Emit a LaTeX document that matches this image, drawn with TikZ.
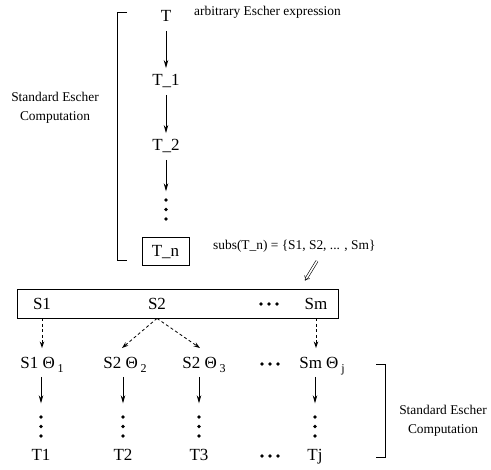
\documentclass[tikz,border=0pt]{standalone}
\usepackage{fontspec}
\setmainfont{Liberation Serif}
\usetikzlibrary{arrows.meta}
\newcommand{\subsc}[1]{\,\raisebox{-4pt}{\fontsize{12}{12}\selectfont #1}}
\begin{document}
\begin{tikzpicture}[x=1pt,y=-1pt,
  lbl/.style={font=\fontsize{17}{17}\selectfont, inner sep=0pt, text height=11.5pt, text depth=0pt},
  small/.style={font=\fontsize{13.4}{19}\selectfont, inner sep=0pt, align=center},
  arr/.style={line width=0.8pt, -{Stealth[length=8pt,width=4.5pt]}},
  darr/.style={line width=0.8pt, dash pattern=on 3pt off 2.5pt, -{Stealth[length=6.5pt,width=4.5pt,open]}},
  ln/.style={line width=0.8pt},
  vdts/.style={minimum width=5pt, minimum height=24pt, inner sep=0pt,
    path picture={\fill ([yshift=9.5pt]path picture bounding box.center) circle (1.9pt)
      (path picture bounding box.center) circle (1.9pt)
      ([yshift=-9.5pt]path picture bounding box.center) circle (1.9pt);}},
  hdts/.style={minimum width=22pt, minimum height=5pt, inner sep=0pt,
    path picture={\fill ([xshift=-8pt]path picture bounding box.center) circle (1.9pt)
      (path picture bounding box.center) circle (1.9pt)
      ([xshift=8pt]path picture bounding box.center) circle (1.9pt);}}]
\useasboundingbox (0,0) rectangle (491,470);

% top chain
\node[lbl] (t) at (166,16) {T};
\node[lbl] (t1) at (166,80) {T\_1};
\node[lbl] (t2) at (166,145) {T\_2};
\node[vdts] (tdots) at (166,209.5) {};
\node[lbl, draw, line width=0.8pt, minimum width=47pt, minimum height=28pt] (tn) at (165.5,251) {T\_n};
\draw[arr, shorten <=9pt, shorten >=6pt] (t) -- (t1);
\draw[arr, shorten <=9pt, shorten >=6pt] (t1) -- (t2);
\draw[arr, shorten <=9pt, shorten >=6pt] (t2) -- (tdots);

\node[small, anchor=base west] (arb) at (194,16) {arbitrary Escher expression};
\node[small] (lab1) at (55,107.5) {Standard Escher\\Computation};
\draw[ln] (127,12) -| (117,260) -- (127,260);

\node[small, anchor=base west] (subs) at (213,250) {subs(T\_n) = \{S1, S2, ... , Sm\}};

% S box
\node[draw, line width=0.8pt, minimum width=321pt, minimum height=29pt, inner sep=0pt] (sbox) at (177.5,303.5) {};
\node[lbl] (s1) at (42,303.5) {S1};
\node[lbl] (s2) at (157,303.5) {S2};
\node[hdts] (sdots) at (269,304) {};
\node[lbl] (sm) at (316,303.5) {Sm};

\coordinate (dstart) at (317,261);
\draw[line width=0.6pt, double, double distance=1.6pt, -{Implies}] (dstart) -- ([xshift=-11pt,yshift=8pt]sbox.north -| sm);

% row 2
\node[lbl] (r1) at (42,363) {S1 Θ\subsc{1}};
\node[lbl] (r2) at (125,363) {S2 Θ\subsc{2}};
\node[lbl] (r3) at (204,363) {S2 Θ\subsc{3}};
\node[hdts] (rdots) at (270,364) {};
\node[lbl] (rm) at (322,363) {Sm Θ\subsc{j}};

\draw[darr] (sbox.south -| s1) -- ([yshift=9pt]r1.north -| s1);
\draw[darr] (sbox.south -| s2) -- ([xshift=-3pt,yshift=9pt]r2.north);
\draw[darr] (sbox.south -| s2) -- ([xshift=-4pt,yshift=9pt]r3.north);
\draw[darr] (sbox.south -| sm) -- ([yshift=9pt]rm.north -| sm);

% vertical dots and bottom row
\node[vdts] (v1) at (41,426.5) {};
\node[vdts] (v2) at (123,426.5) {};
\node[vdts] (v3) at (199,426.5) {};
\node[vdts] (vj) at (315,426.5) {};
\node[lbl] (b1) at (41,455) {T1};
\node[lbl] (b2) at (123,455) {T2};
\node[lbl] (b3) at (199,455) {T3};
\node[hdts] (bdots) at (270,456) {};
\node[lbl] (bj) at (315,455) {Tj};

\draw[arr, shorten <=8pt, shorten >=11pt] (r1.south -| v1) -- (v1.north);
\draw[arr, shorten <=8pt, shorten >=11pt] (r2.south -| v2) -- (v2.north);
\draw[arr, shorten <=8pt, shorten >=11pt] (r3.south -| v3) -- (v3.north);
\draw[arr, shorten <=8pt, shorten >=11pt] (rm.south -| vj) -- (vj.north);

\draw[ln] (376,364) -| (385,457) -- (376,457);
\node[small] (lab2) at (443,420.5) {Standard Escher\\Computation};
\end{tikzpicture}
\end{document}
